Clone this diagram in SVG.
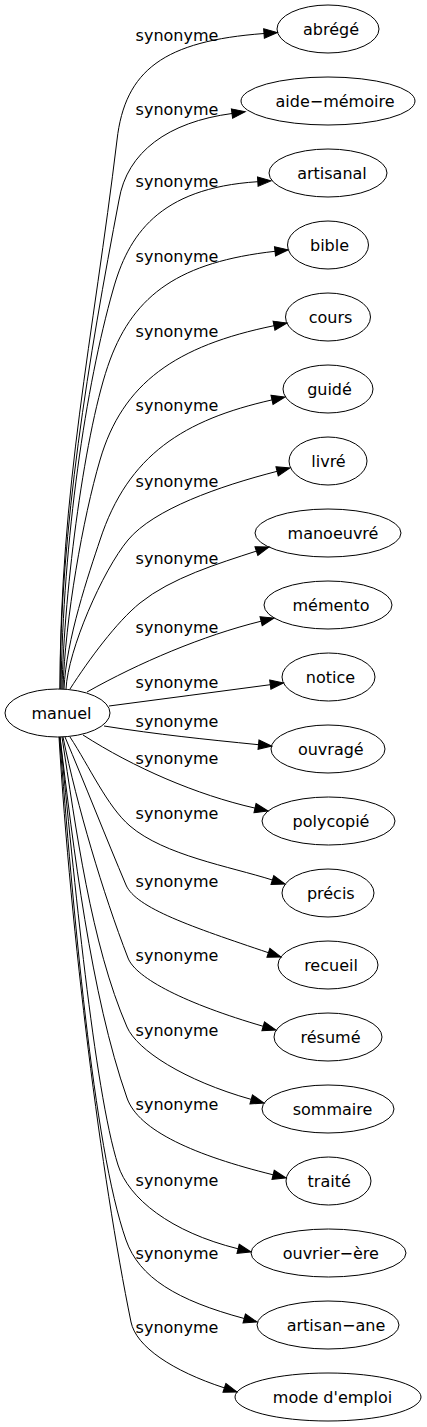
<svg xmlns="http://www.w3.org/2000/svg" width="427" height="1427" viewBox="0 0 427 1427">
<style>
.node ellipse{fill:none;stroke:#000;stroke-width:1}
text{font-family:"DejaVu Sans",Verdana,sans-serif;font-size:16px;fill:#000;text-anchor:middle}
.edge path{fill:none;stroke:#000;stroke-width:1;marker-end:url(#arr)}
</style>
<defs>
<marker id="arr" markerUnits="userSpaceOnUse" markerWidth="14" markerHeight="10" refX="0" refY="5" orient="auto" viewBox="0 0 14 10" overflow="visible">
<path d="M0,0.33 L13.3,5 L0,9.67 z" fill="#000" stroke="#000" stroke-width="1"/>
</marker>
</defs>
<rect width="427" height="1427" fill="#fff"/>
<g id="edges">
<g class="edge" id="e1"><path d="M60,689 C60,489 93,339 117,140 C125,70 164,41 264,33.5"/><text x="177" y="41">synonyme</text></g>
<g class="edge" id="e2"><path d="M60,689 C60,529 89,357 119,200 C127,152 168,122 232,113.5"/><text x="177" y="115">synonyme</text></g>
<g class="edge" id="e3"><path d="M61,689 C63,539 86,385 113,290 C128,236 158,188 257.8,181.7"/><text x="177" y="187">synonyme</text></g>
<g class="edge" id="e4"><path d="M62,689 C64,589 85.5,426 110,360 C134.5,294.2 180,262 275,251.3"/><text x="177" y="262">synonyme</text></g>
<g class="edge" id="e5"><path d="M63,689 C65,620 83,517.6 100,460 C122.4,383 176,345.7 274,325.7"/><text x="177" y="337">synonyme</text></g>
<g class="edge" id="e6"><path d="M64,689 C66,640 89,573 100,540 C128,454.5 184.25,419.7 272,399.9"/><text x="177" y="411">synonyme</text></g>
<g class="edge" id="e7"><path d="M66,689 C68,650 102.4,570.8 128,540 C153.6,509.2 218.9,486.3 277.1,471.3"/><text x="177" y="487">synonyme</text></g>
<g class="edge" id="e8"><path d="M70,689 C88.9,659.6 116.6,621.9 140,603 C171.2,577.8 218.4,563.5 256.4,551.1"/><text x="177" y="564">synonyme</text></g>
<g class="edge" id="e9"><path d="M87,692 C139.2,662.6 202.9,635.6 261.1,621.2"/><text x="177" y="633">synonyme</text></g>
<g class="edge" id="e10"><path d="M109,706 C163,699 217,691.7 270.3,684.7"/><text x="177" y="688">synonyme</text></g>
<g class="edge" id="e11"><path d="M104,726 C158.3,734.6 203.8,739.2 258.5,744.7"/><text x="177" y="727">synonyme</text></g>
<g class="edge" id="e12"><path d="M83,735 C133.4,767.4 196.5,794.9 255,808.1"/><text x="177" y="764">synonyme</text></g>
<g class="edge" id="e13"><path d="M70,737 C89.25,766.2 107.2,806.5 130,826 C164.2,855.25 229.65,866.5 272.4,880"/><text x="177" y="819">synonyme</text></g>
<g class="edge" id="e14"><path d="M65,737 C84.5,783 106.5,839 126,885 C135.75,908 192.4,927.1 268.4,952.7"/><text x="177" y="887">synonyme</text></g>
<g class="edge" id="e15"><path d="M63,737 C77,805.6 102.8,892.9 128,958 C135.9,978.5 186.4,1003.9 263.2,1026.3"/><text x="177" y="961">synonyme</text></g>
<g class="edge" id="e16"><path d="M62,737 C75.5,826 91,944.2 127,1027 C137,1050 184,1080.5 251.2,1099.4"/><text x="177" y="1036">synonyme</text></g>
<g class="edge" id="e17"><path d="M60,737 C73.2,846 90.7,994.6 127,1098 C138.55,1130.9 195.5,1155.6 273.1,1174.8"/><text x="177" y="1110">synonyme</text></g>
<g class="edge" id="e18"><path d="M60,737 C74,876.3 94,1089 118,1165 C128.5,1198.25 170.2,1232 238.1,1248.8"/><text x="177" y="1186">synonyme</text></g>
<g class="edge" id="e19"><path d="M59.5,737 C73.1,907 93,1146 126,1240 C139.2,1277.6 176.65,1300.3 244.2,1318.5"/><text x="177" y="1259">synonyme</text></g>
<g class="edge" id="e20"><path d="M59,737 C71,937 101,1175 131,1322 C136,1346.5 172.15,1370.85 224.4,1387.9"/><text x="177" y="1333">synonyme</text></g>
</g>
<g class="node" id="n-manuel"><ellipse cx="57.5" cy="713" rx="52.5" ry="24"/><text x="61.5" y="718.5">manuel</text></g>
<g class="node" id="n-abrege"><ellipse cx="328" cy="29" rx="51" ry="24"/><text x="331" y="34.5">abrégé</text></g>
<g class="node" id="n-aide-memoire"><ellipse cx="328" cy="101" rx="87" ry="24"/><text x="335" y="106.5">aide−mémoire</text></g>
<g class="node" id="n-artisanal"><ellipse cx="328" cy="173" rx="59" ry="24"/><text x="332" y="178.5">artisanal</text></g>
<g class="node" id="n-bible"><ellipse cx="328" cy="245" rx="40.5" ry="24"/><text x="329.5" y="250.5">bible</text></g>
<g class="node" id="n-cours"><ellipse cx="328" cy="317" rx="42.5" ry="24"/><text x="330.5" y="322.5">cours</text></g>
<g class="node" id="n-guide"><ellipse cx="328" cy="389" rx="45" ry="24"/><text x="329.5" y="394.5">guidé</text></g>
<g class="node" id="n-livre"><ellipse cx="328" cy="461" rx="39" ry="24"/><text x="328.5" y="466.5">livré</text></g>
<g class="node" id="n-manoeuvre"><ellipse cx="328" cy="533" rx="73" ry="24"/><text x="333" y="538.5">manoeuvré</text></g>
<g class="node" id="n-memento"><ellipse cx="328" cy="605" rx="64" ry="24"/><text x="331" y="610.5">mémento</text></g>
<g class="node" id="n-notice"><ellipse cx="328.5" cy="677" rx="46.5" ry="24"/><text x="330.5" y="682.5">notice</text></g>
<g class="node" id="n-ouvrage"><ellipse cx="328" cy="749" rx="57" ry="24"/><text x="330.8" y="754.5">ouvragé</text></g>
<g class="node" id="n-polycopie"><ellipse cx="328.5" cy="821" rx="66.5" ry="24"/><text x="331" y="826.5">polycopié</text></g>
<g class="node" id="n-precis"><ellipse cx="328" cy="893" rx="46" ry="24"/><text x="330.8" y="898.5">précis</text></g>
<g class="node" id="n-recueil"><ellipse cx="328" cy="965" rx="50" ry="24"/><text x="331" y="970.5">recueil</text></g>
<g class="node" id="n-resume"><ellipse cx="328" cy="1037" rx="54" ry="24"/><text x="330.5" y="1042.5">résumé</text></g>
<g class="node" id="n-sommaire"><ellipse cx="328" cy="1109" rx="66" ry="24"/><text x="332.5" y="1114.5">sommaire</text></g>
<g class="node" id="n-traite"><ellipse cx="328.5" cy="1181" rx="42.5" ry="24"/><text x="329.2" y="1186.5">traité</text></g>
<g class="node" id="n-ouvrier-ere"><ellipse cx="328.5" cy="1253" rx="77.5" ry="24"/><text x="330.8" y="1258.5">ouvrier−ère</text></g>
<g class="node" id="n-artisan-ane"><ellipse cx="328" cy="1325" rx="71" ry="24"/><text x="336" y="1330.5">artisan−ane</text></g>
<g class="node" id="n-mode-demploi"><ellipse cx="328" cy="1397" rx="93" ry="24"/><text x="332.5" y="1402.5">mode d'emploi</text></g>
</svg>
